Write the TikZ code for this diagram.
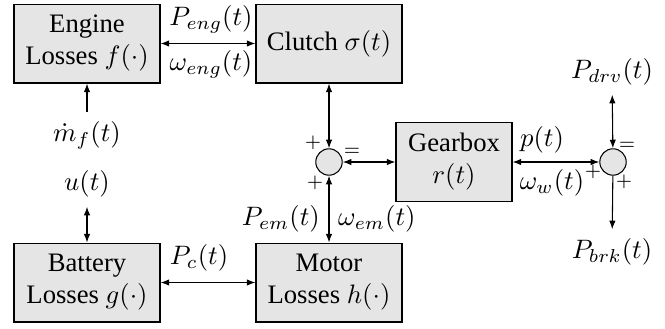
\documentclass[tikz,border=0pt]{standalone}
\usepackage[no-math]{fontspec}
\setmainfont{Liberation Serif}
\usepackage{amsmath}
\usetikzlibrary{arrows.meta, positioning, calc}
\definecolor{boxgray}{gray}{0.9}

\begin{document}
\begin{tikzpicture}[x=0.375pt, y=-0.375pt, >={Latex[length=3.2pt,width=2.4pt]},
  block/.style={draw, fill=boxgray, minimum width=54.75pt, minimum height=29.6pt, align=center, inner sep=0pt},
  sumnode/.style={draw, circle, fill=boxgray, minimum size=9.9pt, inner sep=0pt},
  sgn/.style={inner sep=0pt, font=\scriptsize}]
  \useasboundingbox (0,0) rectangle (665,328);
  % Blocks
  \node[block] (eng) at (87,43.5) {Engine\\Losses $f(\cdot)$};
  \node[block] (clu) at (329,43.5) {Clutch $\sigma(t)$};
  \node[block] (bat) at (87,282.5) {Battery\\Losses $g(\cdot)$};
  \node[block] (mot) at (329,282.5) {Motor\\Losses $h(\cdot)$};
  \node[block, minimum width=43.5pt] (gear) at (454,162) {Gearbox\\$r(t)$};
  % Summing junctions
  \node[sumnode] (sl) at (329,162) {};
  \node[sumnode] (sr) at (613,162) {};
  % Signal labels
  \node (peng) at (211,19) {$P_{eng}(t)$};
  \node (weng) at (211,64) {$\omega_{eng}(t)$};
  \node (mdot) at (87,135) {$\dot{m}_f(t)$};
  \node (u) at (87,184) {$u(t)$};
  \node (pc) at (199,258) {$P_c(t)$};
  \node[anchor=east, inner sep=1pt] (pem) at (323,219) {$P_{em}(t)$};
  \node[anchor=west, inner sep=1pt] (wem) at (335,219) {$\omega_{em}(t)$};
  \node (p) at (542,140) {$p(t)$};
  \node (ww) at (552,183) {$\omega_w(t)$};
  \node (pdrv) at (612,72) {$P_{drv}(t)$};
  \node (pbrk) at (612,252) {$P_{brk}(t)$};
  % Signs
  \node[sgn] (slt) at (313,143) {$+$};
  \node[sgn] (slr) at (352,152) {$=$};
  \node[sgn] (slb) at (315,183) {$+$};
  \node[sgn] (srr) at (627,146) {$=$};
  \node[sgn] (srl) at (593,172) {$+$};
  \node[sgn] (srb) at (624,182) {$+$};
  % Connections
  \draw[<->] (eng) -- (clu);
  \draw[<->] (bat) -- (mot);
  \draw[->] (mdot) -- (eng);
  \draw[<->] (u) -- (bat);
  \draw[<->] (clu) -- (sl);
  \draw[<->] (sl) -- (mot);
  \draw[<->] (sl) -- (gear);
  \draw[<->] (gear) -- (sr);
  \draw[<->] (pdrv) -- (sr);
  \draw[->] (sr) -- (pbrk);
\end{tikzpicture}
\end{document}
